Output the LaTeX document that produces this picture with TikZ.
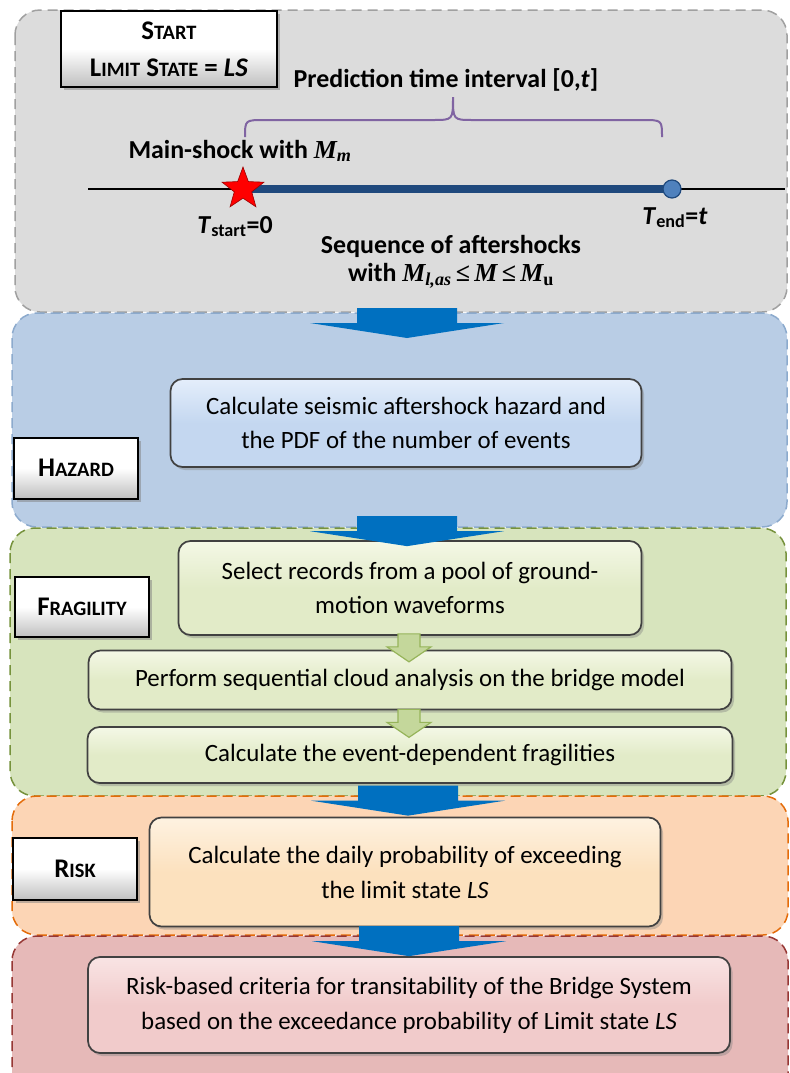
\RequirePackage{fix-cm}
\documentclass[tikz,border=0pt]{standalone}
\usepackage{fontspec}
\setmainfont{Carlito}
\newfontfamily\tms{Liberation Serif}
\usetikzlibrary{shapes.geometric,shadows,calc}
\definecolor{grayfill}{RGB}{220,220,220}
\definecolor{grayline}{RGB}{160,160,160}
\definecolor{bluefill}{RGB}{185,205,229}
\definecolor{blueline}{RGB}{140,170,205}
\definecolor{greenfill}{RGB}{215,228,189}
\definecolor{greenline}{RGB}{118,146,60}
\definecolor{orangefill}{RGB}{252,213,181}
\definecolor{orangeline}{RGB}{228,108,10}
\definecolor{redfill}{RGB}{230,185,184}
\definecolor{redline}{RGB}{150,55,52}
\definecolor{arrowblue}{RGB}{0,112,192}
\definecolor{lineblue}{RGB}{31,73,125}
\definecolor{dotblue}{RGB}{79,129,189}
\definecolor{bracepurple}{RGB}{128,100,162}
\definecolor{boxedge}{RGB}{65,65,65}
\definecolor{hazfill}{RGB}{196,215,240}
\definecolor{hazlight}{RGB}{228,238,251}
\definecolor{grnfill}{RGB}{226,235,200}
\definecolor{grnlight}{RGB}{244,248,230}
\definecolor{grnarrow}{RGB}{196,215,155}
\definecolor{grnarrowline}{RGB}{150,180,90}
\definecolor{riskfill}{RGB}{252,225,190}
\definecolor{risklight}{RGB}{254,242,225}
\definecolor{finfill}{RGB}{241,203,203}
\definecolor{finlight}{RGB}{249,228,228}
\newcommand\fsc[2]{#1{\fontsize{20.5}{24}\selectfont#2}}
\newcommand\mbi[1]{{\tms\bfseries\itshape #1}}
\begin{document}
\begin{tikzpicture}[x=1bp,y=-1bp,
  panel/.style={rounded corners=25bp, dash pattern=on 10bp off 6bp, line width=1.5bp},
  stepbox/.style={draw=boxedge, line width=1.7bp, rounded corners=12bp, align=center,
    inner sep=0pt, font=\fontsize{25}{35}\selectfont,
    drop shadow={shadow xshift=2.5bp, shadow yshift=-3bp, opacity=0.4}},
  labelbox/.style={draw=black, line width=2bp, top color=white, bottom color=black!25,
    middle color=white, inner sep=0pt, align=center,
    font=\bfseries\fontsize{27}{37}\selectfont,
    drop shadow={shadow xshift=3bp, shadow yshift=-3bp, opacity=0.5}},
  btext/.style={font=\bfseries\fontsize{26}{28}\selectfont, inner sep=0pt, align=center},
  bigarrow/.pic={\fill[arrowblue] (-50,-30) -- (50,-30) -- (50,-15) -- (97,-15) -- (0,0)
    -- (-97,-15) -- (-50,-15) -- cycle;},
  smallarrow/.pic={\filldraw[fill=grnarrow, draw=grnarrowline, line width=1.2bp]
    (-11,0) -- (11,0) -- (11,13) -- (22,13) -- (0,28) -- (-22,13) -- (-11,13) -- cycle;}
]
\clip (0,0) rectangle (790,1073);
\fill[white] (0,0) rectangle (790,1073);
% panels
\filldraw[panel, fill=grayfill, draw=grayline] (15,10) rectangle (787,312);
\filldraw[panel, fill=bluefill, draw=blueline] (12,313) rectangle (787,527);
\filldraw[panel, fill=greenfill, draw=greenline] (10,528) rectangle (786,796);
\filldraw[panel, fill=orangefill, draw=orangeline] (12,796) rectangle (788,935);
\filldraw[panel, fill=redfill, draw=redline] (12,936) rectangle (788,1100);

% start section
\node[labelbox, minimum width=216bp, minimum height=76bp] (start) at (169,49)
  {\fsc{S}{TART}\\\fsc{L}{IMIT} \fsc{S}{TATE} = \textit{LS}};
\node[btext, anchor=base] (pred) at (446,87) {Prediction time interval [0,\textit{t}]};
\coordinate (b0) at (245,137);
\coordinate (b1) at (662,137);
\draw[bracepurple, line width=2bp] (b0) .. controls (245,120) .. (265,120) -- (433,120)
  .. controls (453,120) .. (453,97) .. controls (453,120) .. (473,120) -- (642,120)
  .. controls (662,120) .. (b1);
\node[btext, anchor=base] (main) at (240,158) {Main-shock with \mbi{M\textsubscript{m}}};
\coordinate (tl0) at (88,189);
\coordinate (tl1) at (785,189);
\coordinate (sp) at (243,189);
\coordinate (ep) at (672,189);
\draw[black, line width=1.5bp] (tl0) -- (tl1);
\draw[lineblue, line width=8bp] (sp) -- (ep);
\node[star, star points=5, star point ratio=2.4, minimum size=44bp, inner sep=0pt,
  fill=red, draw=red!60!black, line width=0.6bp] (star) at (sp) {};
\node[circle, minimum size=18bp, inner sep=0pt, fill=dotblue, draw=lineblue, line width=1.2bp] (tend) at (ep) {};
\node[btext, anchor=base] (ts) at (235,233) {\textit{T}\textsubscript{start}=0};
\node[btext, anchor=base] (te) at (675,224) {\textit{T}\textsubscript{end}=\textit{t}};
\node[btext] (seq) at (451,262) {Sequence of aftershocks\\with
  \mbi{M\textsubscript{l,as}}\,{\tms\bfseries ≤}\,\mbi{M}\,{\tms\bfseries ≤}\,\mbi{M}{\tms\bfseries\textsubscript{u}}};

% hazard
\node[labelbox, minimum width=123bp, minimum height=61bp] (hazl) at (76,468) {\fsc{H}{AZARD}};
\node[stepbox, top color=hazlight, bottom color=hazfill, middle color=hazfill,
  minimum width=471bp, minimum height=88bp] (haz) at (406,423)
  {Calculate seismic aftershock hazard and\\the PDF of the number of events};

% fragility
\node[labelbox, minimum width=134bp, minimum height=60bp] (fragl) at (82,607) {\fsc{F}{RAGILITY}};
\node[stepbox, top color=grnlight, bottom color=grnfill, middle color=grnfill,
  minimum width=463bp, minimum height=94bp] (sel) at (410,588)
  {Select records from a pool of ground-\\motion waveforms};
\node[stepbox, top color=grnlight, bottom color=grnfill, middle color=grnfill,
  minimum width=643bp, minimum height=59bp] (perf) at (410,680)
  {Perform sequential cloud analysis on the bridge model};
\node[stepbox, top color=grnlight, bottom color=grnfill, middle color=grnfill,
  minimum width=645bp, minimum height=56bp] (calc) at (410,755)
  {Calculate the event-dependent fragilities};

% risk
\node[labelbox, minimum width=124bp, minimum height=62bp] (riskl) at (75,869) {\fsc{R}{ISK}};
\node[stepbox, top color=risklight, bottom color=riskfill, middle color=riskfill,
  minimum width=511bp, minimum height=109bp] (risk) at (405,872)
  {Calculate the daily probability of exceeding\\the limit state \textit{LS}};

% final
\node[stepbox, top color=finlight, bottom color=finfill, middle color=finfill,
  minimum width=642bp, minimum height=96bp] (fin) at (409,1005)
  {Risk-based criteria for transitability of the Bridge System\\based on the exceedance probability of Limit state \textit{LS}};

% arrows
\coordinate (a1) at (407,338);
\pic at (a1) {bigarrow};
\pic at ($(sel.north)+(-3,6)$) {bigarrow};
\pic at ($(risk.north)+(3,-1)$) {bigarrow};
\pic at (fin.north) {bigarrow};
\pic at ([xshift=-1bp,yshift=2bp]sel.south) {smallarrow};
\pic at ([xshift=-1bp,yshift=1bp]perf.south) {smallarrow};
\end{tikzpicture}
\end{document}
